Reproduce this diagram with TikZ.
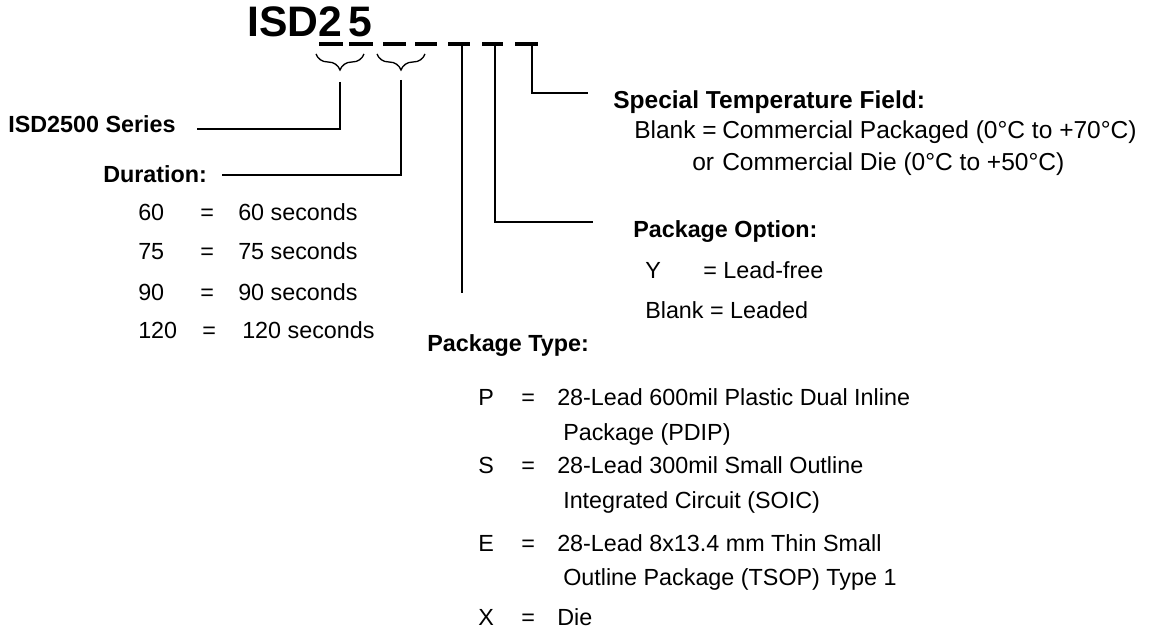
\documentclass[tikz,border=0pt]{standalone}
\usepackage{fontspec}
\setmainfont{Liberation Sans}
\usetikzlibrary{decorations.pathreplacing}

\begin{document}
\begin{tikzpicture}[x=0.75pt, y=-0.75pt]
\tikzstyle{codebar} = [line width=3.4pt]
\tikzstyle{leader} = [line width=1pt]
\tikzstyle{bracket} = [line width=1pt, decorate, decoration={brace, mirror, amplitude=12pt}]
\tikzstyle{headtext} = [anchor=base west, inner sep=0pt, font=\fontsize{17.5}{20}\selectfont\bfseries]
\tikzstyle{bodytext} = [anchor=base west, inner sep=0pt, font=\fontsize{17.5}{20}\selectfont]
\tikzstyle{tempheadtext} = [anchor=base west, inner sep=0pt, font=\fontsize{18.4}{21}\selectfont\bfseries]
\tikzstyle{tempbodytext} = [anchor=base west, inner sep=0pt, font=\fontsize{18.4}{21}\selectfont]

\useasboundingbox (0,0) rectangle (1150,631);

% part number and its fields
\node (part) [anchor=base west, inner sep=0pt, font=\fontsize{32}{38}\selectfont\bfseries] at (247,37) {ISD2\hspace{4.5pt}5};
\foreach \a/\b [count=\i] in {319/343, 349/373, 383/406, 415/437, 448/470, 482/503, 515/538}
  \draw [codebar] (\a,44) coordinate (bar\i a) -- (\b,44) coordinate (bar\i b);

\draw [bracket] (316,54) -- (364,54);
\draw [bracket] (377,54) -- (425,54);
\coordinate (tip1) at (340,82);
\coordinate (tip2) at (401,80);
\coordinate (stem5) at (462,44);
\coordinate (stem6) at (495,44);
\coordinate (stem7) at (532,44);
\coordinate (seriesend) at (197,129);
\coordinate (durationend) at (222,175);
\coordinate (typeend) at (462,293);
\coordinate (optionend) at (593,222);
\coordinate (tempend) at (588,93);

% left labels
\node (series) [headtext] at (8,133) {ISD2500 Series};
\node (duration) [headtext] at (103,183) {Duration:};
\node (d60) [bodytext] at (138,220) {60};
\node (d75) [bodytext] at (138,260) {75};
\node (d90) [bodytext] at (138,300) {90};
\node (d120) [bodytext] at (138,338) {120};
\node (e60) [bodytext] at (200,220) {=};
\node (e75) [bodytext] at (200,260) {=};
\node (e90) [bodytext] at (200,300) {=};
\node (e120) [bodytext] at (202,338) {=};
\node (s60) [bodytext] at (238,220) {60 seconds};
\node (s75) [bodytext] at (238,260) {75 seconds};
\node (s90) [bodytext] at (238,300) {90 seconds};
\node (s120) [bodytext] at (242,338) {120 seconds};

% right labels
\node (temp) [tempheadtext] at (613,109) {Special Temperature Field:};
\node (tblank) [tempbodytext] at (634,139) {Blank =};
\node (tcom) [tempbodytext] at (722,139) {Commercial Packaged (0\textdegree C to +70\textdegree C)};
\node (tor) [tempbodytext] at (692,171) {or};
\node (tdie) [tempbodytext] at (722,171) {Commercial Die (0\textdegree C to +50\textdegree C)};
\node (option) [headtext] at (633,238) {Package Option:};
\node (oy) [bodytext] at (645,278) {Y};
\node (oyv) [bodytext] at (703,278) {= Lead-free};
\node (oblank) [bodytext] at (645,318) {Blank = Leaded};

% package type
\node (ptype) [headtext] at (427,351) {Package Type:};
\node (pp) [bodytext] at (478,405) {P};
\node (pe1) [bodytext] at (521,405) {=};
\node (pp1) [bodytext] at (557,405) {28-Lead 600mil Plastic Dual Inline};
\node (pp2) [bodytext] at (563,440) {Package (PDIP)};
\node (ps) [bodytext] at (478,473) {S};
\node (pe2) [bodytext] at (521,473) {=};
\node (ps1) [bodytext] at (557,473) {28-Lead 300mil Small Outline};
\node (ps2) [bodytext] at (563,508) {Integrated Circuit (SOIC)};
\node (pe) [bodytext] at (478,551) {E};
\node (pe3) [bodytext] at (521,551) {=};
\node (pe4) [bodytext] at (557,551) {28-Lead 8x13.4 mm Thin Small};
\node (pe5) [bodytext] at (563,585) {Outline Package (TSOP) Type 1};
\node (px) [bodytext] at (478,625) {X};
\node (pe6) [bodytext] at (521,625) {=};
\node (px1) [bodytext] at (557,625) {Die};

% leaders
\draw [leader] (tip1) |- (seriesend);
\draw [leader] (tip2) |- (durationend);
\draw [leader] (stem5) -- (typeend);
\draw [leader] (stem6) |- (optionend);
\draw [leader] (stem7) |- (tempend);

\end{tikzpicture}
\end{document}
